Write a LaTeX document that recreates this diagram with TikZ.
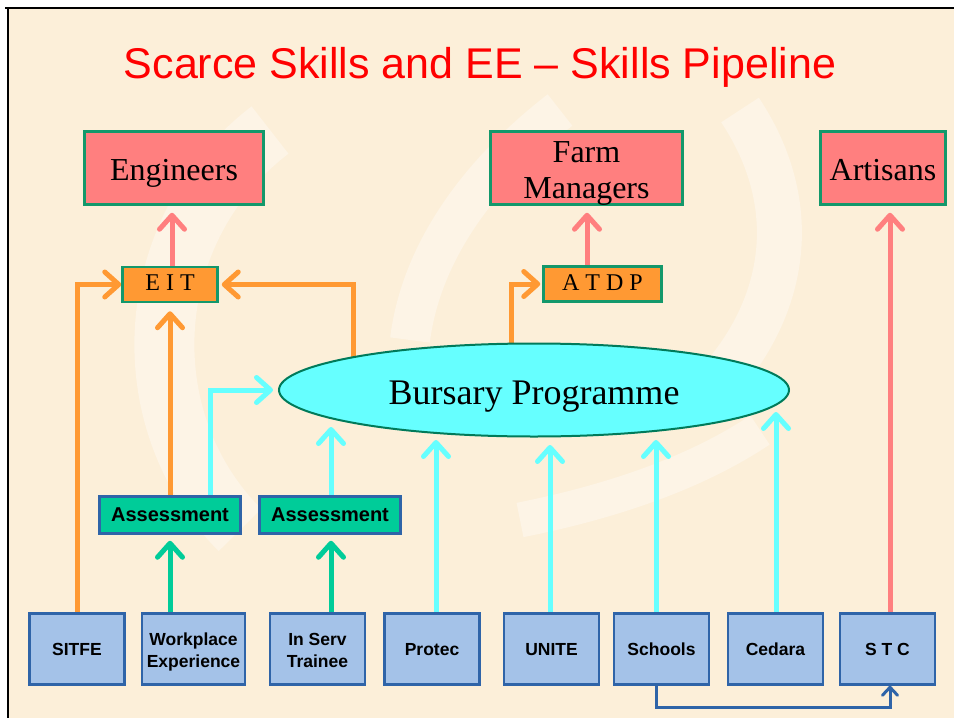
\documentclass[tikz,border=0pt]{standalone}
\usepackage{fontspec}
\setmainfont{Liberation Serif}
\newfontfamily\arialf{Liberation Sans}
\usetikzlibrary{arrows.meta,shapes.geometric,calc}
\definecolor{cream}{HTML}{FCEFD9}
\definecolor{creamlt}{HTML}{FDF4E6}
\definecolor{pinkc}{HTML}{FF7F7F}
\definecolor{orangec}{HTML}{FF9933}
\definecolor{cyanc}{HTML}{66FFFF}
\definecolor{tealc}{HTML}{00CC99}
\definecolor{bgreen}{HTML}{13986B}
\definecolor{eborder}{HTML}{007A5A}
\definecolor{bblue}{HTML}{2F64A8}
\definecolor{lblue}{HTML}{A4C2E8}
\definecolor{titlered}{HTML}{FF0000}
\newcommand\dn[2]{\raisebox{-#1}[\height][\depth]{\begin{tabular}{@{}c@{}}#2\end{tabular}}}
\pgfdeclarelayer{bg}
\pgfdeclarelayer{lines}
\pgfsetlayers{bg,lines,main}
\tikzset{
  topbox/.style={draw=bgreen, line width=2.5pt, fill=pinkc, minimum height=73pt, inner sep=0pt, font=\fontsize{32}{36}\selectfont},
  midbox/.style={draw=bgreen, line width=2.5pt, fill=orangec, minimum height=35pt, inner sep=0pt, font=\fontsize{24}{26}\selectfont},
  assbox/.style={draw=bblue, line width=2.5pt, fill=tealc, minimum width=141pt, minimum height=37pt, inner sep=0pt, font=\arialf\bfseries\fontsize{20}{22}\selectfont},
  srcbox/.style={draw=bblue, line width=2.5pt, fill=lblue, minimum width=95pt, minimum height=71pt, inner sep=0pt, font=\arialf\bfseries\fontsize{17.5}{21.5}\selectfont},
  conn/.style={line width=5pt, -{Straight Barb[length=14pt,width=25pt,round]}},
  pk/.style={conn, draw=pinkc},
  orr/.style={conn, draw=orangec},
  cy/.style={conn, draw=cyanc},
  gr/.style={conn, draw=tealc},
  bl/.style={line width=3pt, draw=bblue, -{Straight Barb[length=8pt,width=15pt,round]}}
}
\begin{document}
\begin{tikzpicture}[x=1pt,y=-1pt]
\useasboundingbox (0,0) rectangle (954,718);
\begin{pgfonlayer}{bg}
  \fill[white] (0,0) rectangle (954,718);
  \fill[cream] (8,8) rectangle (954,718);
  \draw[creamlt, line width=60pt] (270,130) .. controls (140,230) and (130,420) .. (240,530);
  \draw[creamlt, line width=40pt] (560,110) .. controls (470,180) and (420,260) .. (410,340);
  \draw[creamlt, line width=45pt] (740,110) .. controls (800,200) and (790,300) .. (720,380);
  \draw[creamlt, line width=35pt] (520,520) .. controls (620,500) and (700,470) .. (760,430);
  \draw[black, line width=2pt] (5,8) -- (954,8);
  \draw[black, line width=2pt] (8,8) -- (8,718);
\end{pgfonlayer}

\node[font=\arialf\fontsize{43}{48}\selectfont, text=titlered, anchor=base, inner sep=0pt] (title) at (480,78) {Scarce Skills and EE – Skills Pipeline};

\node[topbox, minimum width=179pt] (eng) at (174,168) {\dn{5pt}{Engineers}};
\node[topbox, minimum width=192pt] (farm) at (586.5,168) {\dn{5pt}{Farm\\Managers}};
\node[topbox, minimum width=125pt] (art) at (883,168) {\dn{5pt}{Artisans}};

\node[midbox, minimum width=95pt] (eit) at (170,284.5) {\dn{1pt}{E I T}};
\node[midbox, minimum width=118pt] (atdp) at (602.5,284) {\dn{1pt}{A T D P}};

\node[ellipse, draw=eborder, line width=2pt, fill=cyanc, minimum width=510pt, minimum height=93pt, inner sep=0pt, font=\fontsize{36}{40}\selectfont] (bursary) at (534,390) {\dn{6pt}{Bursary Programme}};

\node[assbox] (ass1) at (170,515) {Assessment};
\node[assbox] (ass2) at (330,515) {Assessment};

\node[srcbox] (sitfe) at (77,649) {\dn{2pt}{SITFE}};
\node[srcbox, minimum width=103pt] (work) at (193.5,649) {\dn{3pt}{Workplace\\Experience}};
\node[srcbox] (inserv) at (317.5,649) {\dn{3pt}{In Serv\\Trainee}};
\node[srcbox] (protec) at (432,649) {\dn{2pt}{Protec}};
\node[srcbox] (unite) at (551.5,649) {\dn{2pt}{UNITE}};
\node[srcbox] (schools) at (661.5,649) {\dn{2pt}{Schools}};
\node[srcbox] (cedara) at (775.5,649) {\dn{2pt}{Cedara}};
\node[srcbox] (stc) at (887.5,649) {\dn{2pt}{S T C}};

\coordinate (tA2) at (331,427);
\coordinate (tPr) at (436,440);
\coordinate (tUn) at (550,445);
\coordinate (tSc) at (656,440);
\coordinate (tCe) at (776,412);
\coordinate (bE) at (353,380);
\coordinate (bA) at (511,380);

\begin{pgfonlayer}{lines}
  % pink
  \draw[pk, shorten >=7pt] (eit.north -| 172,0) -- (eng.south -| 172,0);
  \draw[pk, shorten >=7pt] (atdp.north -| 587,0) -- (farm.south -| 587,0);
  \draw[pk, shorten >=7pt] (stc.north -| 890,0) -- (art.south -| 890,0);
  % orange
  \draw[orr] (sitfe.north) |- (eit.west);
  \draw[orr, shorten >=8pt] (ass1.north) -- (eit.south);
  \draw[orr, shorten >=3pt] (bE) |- (eit.east);
  \draw[orr, shorten >=2pt] (bA) |- (atdp.west);
  % cyan
  \draw[cy, shorten >=5pt] ($(ass1.north)+(40,0)$) |- (bursary.west);
  \draw[cy] (ass2.north -| tA2) -- (tA2);
  \draw[cy] (protec.north -| tPr) -- (tPr);
  \draw[cy] (unite.north -| tUn) -- (tUn);
  \draw[cy] (schools.north -| tSc) -- (tSc);
  \draw[cy] (cedara.north -| tCe) -- (tCe);
  % green
  \draw[gr, shorten >=6pt] (work.north -| 170,0) -- (ass1.south);
  \draw[gr, shorten >=6pt] (inserv.north -| 331,0) -- (ass2.south -| 331,0);
  % blue
  \draw[bl] (schools.south -| 656,0) -- ++(0,22) -| (stc.south -| 890,0);
\end{pgfonlayer}
\end{tikzpicture}
\end{document}
